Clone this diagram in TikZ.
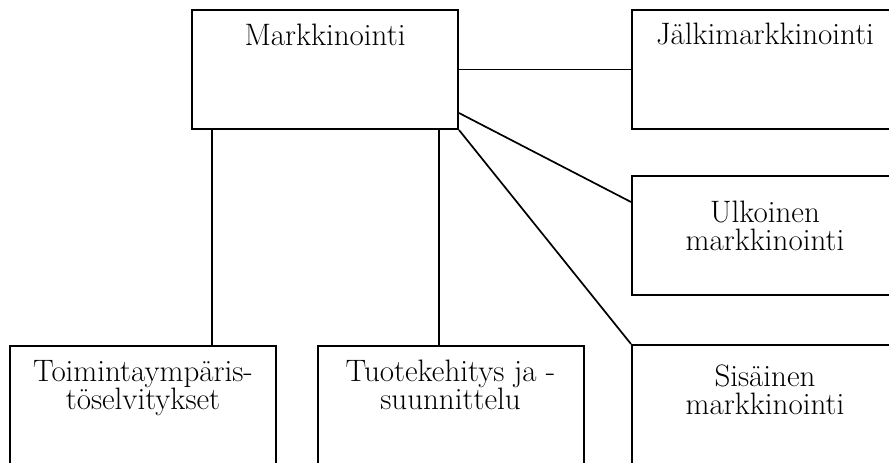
\documentclass[tikz,border=0pt]{standalone}
\usepackage{tikz}

\tikzset{
  box/.style={shape=rectangle, draw=black, line width=2pt, minimum width=266pt, inner sep=0pt},
  txt/.style={align=center, inner sep=0pt, font=\fontsize{31}{28.5}\selectfont},
  link/.style={-, line width=1.7pt}
}

\begin{document}
\begin{tikzpicture}[x=1pt, y=-1pt]

	\clip (0,0) rectangle (889,463);

	\node[box, minimum height=119pt] (mark)  at (325, 69.5)  {};
	\node[box, minimum height=119pt] (jalki) at (765, 69.5)  {};
	\node[box, minimum height=119pt] (ulk)   at (765, 235.5) {};
	\node[box, minimum height=130pt] (sis)   at (765, 410)   {};
	\node[box, minimum height=130pt] (toim)  at (143, 411)   {};
	\node[box, minimum height=130pt] (tuote) at (450.5, 411) {};

	% base of a two-line node is the baseline of its last line
	\node[txt, anchor=base] (marktxt)  at ([yshift=-36pt]mark.north)  {Markkinointi};
	\node[txt, anchor=base] (jalkitxt) at ([yshift=-35pt]jalki.north) {Jälkimarkkinointi};
	\node[txt, anchor=base] (ulktxt)   at ([yshift=-75.5pt]ulk.north)  {Ulkoinen\\markkinointi};
	\node[txt, anchor=base] (sistxt)   at ([yshift=-70.5pt]sis.north)  {Sisäinen\\markkinointi};
	\node[txt, anchor=base] (toimtxt)  at ([yshift=-64.5pt]toim.north) {Toimintaympäris-\\töselvitykset};
	\node[txt, anchor=base] (tuotetxt) at ([yshift=-64.5pt]tuote.north) {Tuotekehitys ja -\\suunnittelu};

	\coordinate (left)  at ([xshift=21pt]mark.south west);
	\coordinate (mid)   at ([xshift=-20pt]mark.south east);

	\draw[link] (mark.east) -- (jalki.west);
	\draw[link] ([yshift=17pt]mark.south east) -- ([yshift=-27pt]ulk.north west);
	\draw[link] (mark.south east) -- (sis.north west);
	\draw[link] (left) -- (left |- toim.north);
	\draw[link] (mid) -- (mid |- tuote.north);

\end{tikzpicture}
\end{document}
